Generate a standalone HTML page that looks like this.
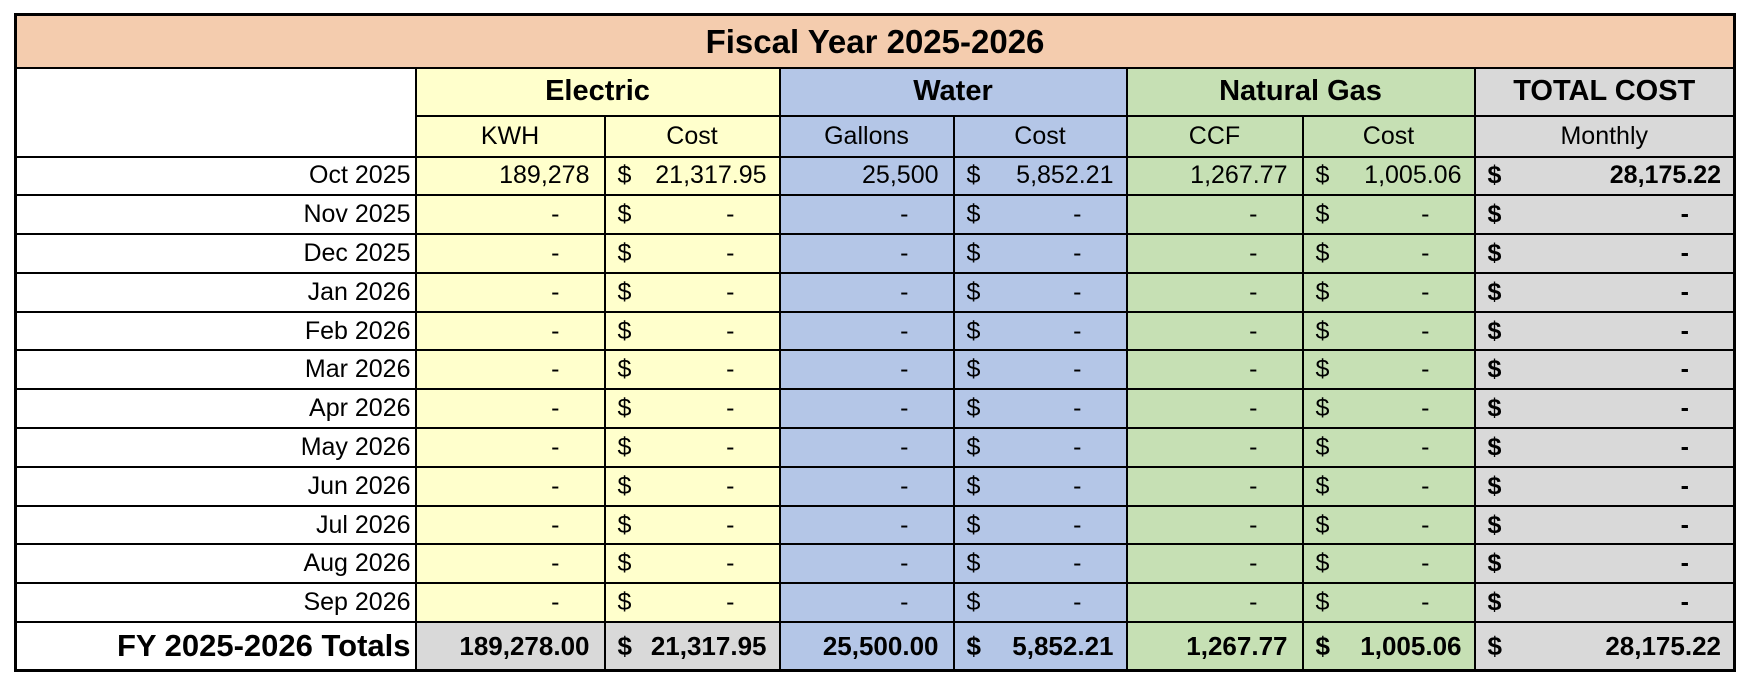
<!DOCTYPE html>
<html><head><meta charset="utf-8"><style>
html,body{margin:0;padding:0;background:#fff;width:1752px;height:683px;overflow:hidden}
body{font-family:"Liberation Sans",sans-serif;color:#000}
table{position:absolute;left:14px;top:13px;border-collapse:collapse;table-layout:fixed;border:3px solid #000}
td{border:2px solid #000;padding:0;font-size:25px;white-space:nowrap;overflow:hidden;line-height:1}
.t{background:#F4CCAE;text-align:center;font-weight:bold;font-size:33px}
.g{font-weight:bold;font-size:29px;text-align:center}
.s{text-align:center;font-size:25px}
.y{background:#FFFFCC}.b{background:#B4C6E7}.gr{background:#C6E0B4}.x{background:#D9D9D9}
.l{text-align:right;padding-right:4px}
.n{text-align:right;padding-right:14px}
.d{text-align:right;padding-right:44px}
.a{padding:0 12px 0 12px}
.a div{display:flex;justify-content:space-between}
.a.dd div span:last-child{padding-right:32px}
.bo{font-weight:bold}
.tot td{font-weight:bold;font-size:26px}
tr.r{height:38.8px}
</style></head><body>
<table>
<colgroup><col style="width:400px"><col style="width:189px"><col style="width:175px"><col style="width:174px"><col style="width:173px"><col style="width:176px"><col style="width:172px"><col style="width:260px"></colgroup>
<tr style="height:53px"><td class="t" colspan="8">Fiscal Year 2025-2026</td></tr>
<tr style="height:48px"><td rowspan="2"></td><td class="g y" colspan="2">Electric</td><td class="g b" colspan="2">Water</td><td class="g gr" colspan="2">Natural Gas</td><td class="g x">TOTAL COST</td></tr>
<tr style="height:41px"><td class="s y">KWH</td><td class="s y">Cost</td><td class="s b">Gallons</td><td class="s b">Cost</td><td class="s gr">CCF</td><td class="s gr">Cost</td><td class="s x">Monthly</td></tr>
<tr class="r"><td class="l">Oct 2025</td><td class="n y">189,278</td><td class="a y"><div><span>$</span><span>21,317.95</span></div></td><td class="n b">25,500</td><td class="a b"><div><span>$</span><span>5,852.21</span></div></td><td class="n gr">1,267.77</td><td class="a gr"><div><span>$</span><span>1,005.06</span></div></td><td class="a x bo"><div><span>$</span><span>28,175.22</span></div></td></tr>
<tr class="r"><td class="l">Nov 2025</td><td class="d y">-</td><td class="a dd y"><div><span>$</span><span>-</span></div></td><td class="d b">-</td><td class="a dd b"><div><span>$</span><span>-</span></div></td><td class="d gr">-</td><td class="a dd gr"><div><span>$</span><span>-</span></div></td><td class="a dd x bo"><div><span>$</span><span>-</span></div></td></tr>
<tr class="r"><td class="l">Dec 2025</td><td class="d y">-</td><td class="a dd y"><div><span>$</span><span>-</span></div></td><td class="d b">-</td><td class="a dd b"><div><span>$</span><span>-</span></div></td><td class="d gr">-</td><td class="a dd gr"><div><span>$</span><span>-</span></div></td><td class="a dd x bo"><div><span>$</span><span>-</span></div></td></tr>
<tr class="r"><td class="l">Jan 2026</td><td class="d y">-</td><td class="a dd y"><div><span>$</span><span>-</span></div></td><td class="d b">-</td><td class="a dd b"><div><span>$</span><span>-</span></div></td><td class="d gr">-</td><td class="a dd gr"><div><span>$</span><span>-</span></div></td><td class="a dd x bo"><div><span>$</span><span>-</span></div></td></tr>
<tr class="r"><td class="l">Feb 2026</td><td class="d y">-</td><td class="a dd y"><div><span>$</span><span>-</span></div></td><td class="d b">-</td><td class="a dd b"><div><span>$</span><span>-</span></div></td><td class="d gr">-</td><td class="a dd gr"><div><span>$</span><span>-</span></div></td><td class="a dd x bo"><div><span>$</span><span>-</span></div></td></tr>
<tr class="r"><td class="l">Mar 2026</td><td class="d y">-</td><td class="a dd y"><div><span>$</span><span>-</span></div></td><td class="d b">-</td><td class="a dd b"><div><span>$</span><span>-</span></div></td><td class="d gr">-</td><td class="a dd gr"><div><span>$</span><span>-</span></div></td><td class="a dd x bo"><div><span>$</span><span>-</span></div></td></tr>
<tr class="r"><td class="l">Apr 2026</td><td class="d y">-</td><td class="a dd y"><div><span>$</span><span>-</span></div></td><td class="d b">-</td><td class="a dd b"><div><span>$</span><span>-</span></div></td><td class="d gr">-</td><td class="a dd gr"><div><span>$</span><span>-</span></div></td><td class="a dd x bo"><div><span>$</span><span>-</span></div></td></tr>
<tr class="r"><td class="l">May 2026</td><td class="d y">-</td><td class="a dd y"><div><span>$</span><span>-</span></div></td><td class="d b">-</td><td class="a dd b"><div><span>$</span><span>-</span></div></td><td class="d gr">-</td><td class="a dd gr"><div><span>$</span><span>-</span></div></td><td class="a dd x bo"><div><span>$</span><span>-</span></div></td></tr>
<tr class="r"><td class="l">Jun 2026</td><td class="d y">-</td><td class="a dd y"><div><span>$</span><span>-</span></div></td><td class="d b">-</td><td class="a dd b"><div><span>$</span><span>-</span></div></td><td class="d gr">-</td><td class="a dd gr"><div><span>$</span><span>-</span></div></td><td class="a dd x bo"><div><span>$</span><span>-</span></div></td></tr>
<tr class="r"><td class="l">Jul 2026</td><td class="d y">-</td><td class="a dd y"><div><span>$</span><span>-</span></div></td><td class="d b">-</td><td class="a dd b"><div><span>$</span><span>-</span></div></td><td class="d gr">-</td><td class="a dd gr"><div><span>$</span><span>-</span></div></td><td class="a dd x bo"><div><span>$</span><span>-</span></div></td></tr>
<tr class="r"><td class="l">Aug 2026</td><td class="d y">-</td><td class="a dd y"><div><span>$</span><span>-</span></div></td><td class="d b">-</td><td class="a dd b"><div><span>$</span><span>-</span></div></td><td class="d gr">-</td><td class="a dd gr"><div><span>$</span><span>-</span></div></td><td class="a dd x bo"><div><span>$</span><span>-</span></div></td></tr>
<tr class="r"><td class="l">Sep 2026</td><td class="d y">-</td><td class="a dd y"><div><span>$</span><span>-</span></div></td><td class="d b">-</td><td class="a dd b"><div><span>$</span><span>-</span></div></td><td class="d gr">-</td><td class="a dd gr"><div><span>$</span><span>-</span></div></td><td class="a dd x bo"><div><span>$</span><span>-</span></div></td></tr>
<tr style="height:48px" class="tot"><td class="l" style="font-size:31px">FY 2025-2026 Totals</td><td class="n x">189,278.00</td><td class="a x"><div><span>$</span><span>21,317.95</span></div></td><td class="n b">25,500.00</td><td class="a b"><div><span>$</span><span>5,852.21</span></div></td><td class="n gr">1,267.77</td><td class="a gr"><div><span>$</span><span>1,005.06</span></div></td><td class="a x"><div><span>$</span><span>28,175.22</span></div></td></tr>
</table>
</body></html>
